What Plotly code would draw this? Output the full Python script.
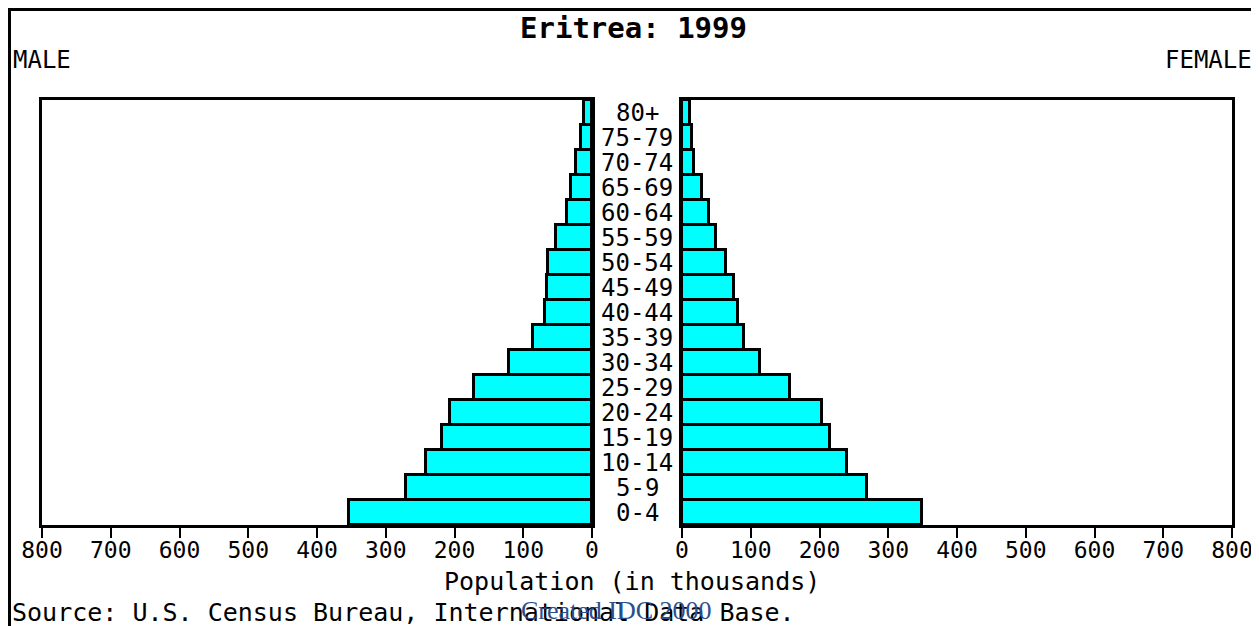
import plotly.graph_objects as go

# The page body adds an 8px margin, so the figure is laid out in window pixels
# and shifted by that offset.
OX, OY = 8, 8
W, H = 1259 - OX, 626 - OY

age_groups = ["0-4", "5-9", "10-14", "15-19", "20-24", "25-29", "30-34", "35-39",
              "40-44", "45-49", "50-54", "55-59", "60-64", "65-69", "70-74", "75-79", "80+"]
male = [354, 271, 242, 218, 206, 172, 121, 86, 69, 66, 64, 52, 37, 30, 23, 16, 11]
female = [349, 269, 240, 215, 203, 157, 113, 90, 82, 75, 64, 50, 39, 29, 17, 14, 11]
tick_vals = [0, 100, 200, 300, 400, 500, 600, 700, 800]
tick_text = [str(v) for v in tick_vals]

FONT = "DejaVu Sans Mono"

def px(x):
    return (x - OX) / W

def py(y):
    return 1 - (y - OY) / H

fig = go.Figure()
fig.add_trace(go.Bar(y=age_groups, x=male, orientation="h", xaxis="x", yaxis="y",
                     marker=dict(color="#00FFFF", line=dict(color="black", width=3)),
                     showlegend=False, hoverinfo="x+y"))
fig.add_trace(go.Bar(y=age_groups, x=female, orientation="h", xaxis="x2", yaxis="y2",
                     marker=dict(color="#00FFFF", line=dict(color="black", width=3)),
                     showlegend=False, hoverinfo="x+y"))

axis_common = dict(showgrid=False, zeroline=False, showline=True, linecolor="black",
                   linewidth=3, mirror=True, ticks="outside", ticklen=10, tickwidth=2,
                   tickcolor="black", tickvals=tick_vals, ticktext=tick_text,
                   ticklabelstandoff=-8, automargin=False,
                   tickfont=dict(family=FONT, size=23, color="black"), fixedrange=True)
yaxis_common = dict(showgrid=False, zeroline=False, showline=True, linecolor="black",
                    linewidth=3, mirror=True, showticklabels=False, ticks="",
                    automargin=False,
                    range=[-0.5, len(age_groups) - 0.5], fixedrange=True,
                    domain=[py(525), py(100)])

fig.update_layout(
    width=W, height=H, autosize=False,
    margin=dict(l=0, r=0, t=0, b=0, pad=0),
    paper_bgcolor="white", plot_bgcolor="white",
    bargap=0,
    xaxis=dict(domain=[px(42), px(592)], range=[800, 0], anchor="y", **axis_common),
    yaxis=dict(anchor="x", **yaxis_common),
    xaxis2=dict(domain=[px(682), px(1232)], range=[0, 800], anchor="y2", **axis_common),
    yaxis2=dict(anchor="x2", **yaxis_common),
)

annotations = []
for ag in age_groups:
    annotations.append(dict(x=px(637), xref="paper", y=ag, yref="y", text=ag,
                            showarrow=False, xanchor="center", yanchor="middle",
                            font=dict(family=FONT, size=24, color="black")))
annotations += [
    dict(x=px(633), y=py(28), xref="paper", yref="paper", text="<b>Eritrea: 1999</b>",
         showarrow=False, xanchor="center", yanchor="middle",
         font=dict(family=FONT, size=29, color="black")),
    dict(x=px(11), y=py(60), xref="paper", yref="paper", text="MALE",
         showarrow=False, xanchor="left", yanchor="middle",
         font=dict(family=FONT, size=24, color="black")),
    dict(x=px(1254), y=py(60), xref="paper", yref="paper", text="FEMALE",
         showarrow=False, xanchor="right", yanchor="middle",
         font=dict(family=FONT, size=24, color="black")),
    dict(x=px(632), y=py(581), xref="paper", yref="paper", text="Population (in thousands)",
         showarrow=False, xanchor="center", yanchor="middle",
         font=dict(family=FONT, size=25, color="black")),
    dict(x=px(10), y=py(612), xref="paper", yref="paper",
         text="Source: U.S. Census Bureau, International Data Base.",
         showarrow=False, xanchor="left", yanchor="middle",
         font=dict(family=FONT, size=25, color="black")),
    dict(x=px(616), y=py(610), xref="paper", yref="paper", text="Created IDC 2000",
         showarrow=False, xanchor="center", yanchor="middle",
         font=dict(family="Liberation Serif", size=26, color="#2b4f8c")),
]
fig.update_layout(annotations=annotations)

fig.update_layout(shapes=[
    dict(type="line", xref="paper", yref="paper", x0=px(9.5), x1=px(9.5), y0=py(8), y1=py(626),
         line=dict(color="black", width=3)),
    dict(type="line", xref="paper", yref="paper", x0=px(8), x1=px(1259), y0=py(9.5), y1=py(9.5),
         line=dict(color="black", width=3)),
])

fig.write_html("out.html")
